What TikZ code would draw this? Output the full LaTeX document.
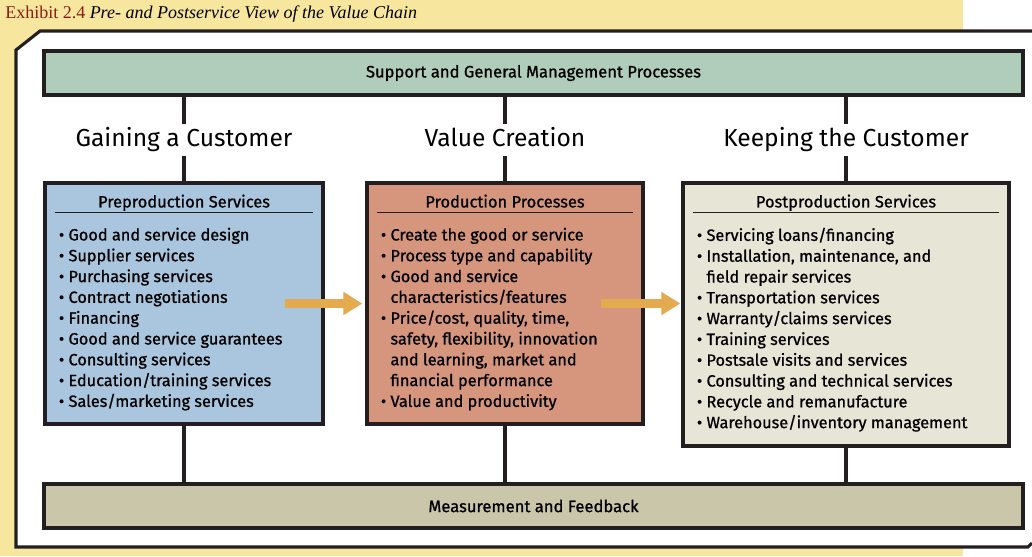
\documentclass[tikz,border=0pt]{standalone}
\usepackage{fontspec}
\setmainfont{Fira Sans}
\newfontfamily\medfont[FakeBold=0.9]{Fira Sans}
\newfontfamily\exhibitfont{Liberation Serif}
\usetikzlibrary{positioning, calc, arrows.meta}
\definecolor{bgyellow}{RGB}{247,230,158}
\definecolor{frameink}{RGB}{35,31,32}
\definecolor{supportgreen}{RGB}{175,205,186}
\definecolor{measuretan}{RGB}{202,198,170}
\definecolor{preblue}{RGB}{169,198,222}
\definecolor{prodsalmon}{RGB}{214,149,125}
\definecolor{postbeige}{RGB}{231,229,214}
\definecolor{flowOrange}{RGB}{228,170,80}
\definecolor{exhibitred}{RGB}{140,30,20}
\tikzset{
    bar/.style={
        draw=frameink, line width=2.2pt, minimum width=24.475cm, minimum height=1.1cm,
        font=\medfont\fontsize{11.8}{13}\selectfont
    },
    stagebox/.style={
        draw=frameink, line width=2.2pt, minimum height=6.025cm
    },
    boxtitle/.style={
        font=\medfont\fontsize{11.7}{13}\selectfont, inner sep=0pt, anchor=base
    },
    itemlist/.style={
        align=left, inner sep=0pt, anchor=north west, font=\medfont\fontsize{11.6}{14.8}\selectfont
    },
    link/.style={
        draw=frameink, line width=2.5pt
    },
    heading/.style={
        fill=white, inner sep=3pt, anchor=base, text height=13pt, text depth=4pt,
        font=\fontsize{17.5}{20}\selectfont
    },
    flow/.style={
        draw=flowOrange, line width=7pt, -{Triangle[length=0.47cm, width=0.55cm]}
    }
}
\newcommand{\bul}{\textbullet\ }
\newcommand{\cont}{\phantom{\textbullet\ }}

\begin{document}
\begin{tikzpicture}
    \useasboundingbox (0,0) rectangle (25.8,-13.9);

    % --- BACKGROUND AND FRAME ---
    \fill[bgyellow] (0,0) rectangle (24.075,-13.9);
    \fill[white] (0.4,-1.25) -- (1,-0.775) -- (25.8,-0.775) -- (25.8,-13.675) -- (0.4,-13.675) -- cycle;
    \draw[frameink, line width=2.2pt] (25.8,-0.775) -- (1,-0.775) -- (0.4,-1.25) -- (0.4,-13.675) -- (25.7,-13.675) -- (25.8,-13.575);

    \node[anchor=west, inner sep=0pt, font=\exhibitfont\fontsize{12.8}{14}\selectfont] (exhibit) at (0.125,-0.35)
        {\textcolor{exhibitred}{Exhibit 2.4} \textit{Pre- and Postservice View of the Value Chain}};

    % --- BARS ---
    \node[bar, fill=supportgreen] (support) at (13.3375,-1.825) {Support and General Management Processes};
    \node[bar, fill=measuretan] (measure) at (13.3375,-12.65) {Measurement and Feedback};

    % --- THE THREE STAGES ---
    \node[stagebox, fill=preblue, minimum width=6.95cm] (pre) at (4.6,-7.5875) {};
    \node[stagebox, fill=prodsalmon, minimum width=6.9cm] (prod) at (12.625,-7.5875) {};
    \node[stagebox, fill=postbeige, minimum width=8.15cm, minimum height=6.575cm] (post) at (21.15,-7.8625) {};

    % links to the bars
    \foreach \s in {pre, prod, post} {
        \draw[link] (\s.north) -- (\s.north |- support.south);
        \draw[link] (\s.south) -- (\s.south |- measure.north);
    }

    % headings over the links
    \node[heading] (gain) at (pre.north |- 0,-3.65) {Gaining a Customer};
    \node[heading] (create) at (prod.north |- 0,-3.65) {Value Creation};
    \node[heading] (keep) at (post.north |- 0,-3.65) {Keeping the Customer};

    % box titles and rules
    \node[boxtitle] (pretitle) at ([yshift=-0.65cm]pre.north) {Preproduction Services};
    \node[boxtitle] (prodtitle) at ([yshift=-0.65cm]prod.north) {Production Processes};
    \node[boxtitle] (posttitle) at ([yshift=-0.65cm]post.north) {Postproduction Services};
    \foreach \s in {pre, prod, post} {
        \draw[frameink, line width=1pt] ([xshift=0.28cm, yshift=-0.775cm]\s.north west) -- ([xshift=-0.28cm, yshift=-0.775cm]\s.north east);
    }

    % item lists
    \node[itemlist] (prelist) at ([xshift=0.38cm, yshift=-1.15cm]pre.north west) {%
        \bul Good and service design\\
        \bul Supplier services\\
        \bul Purchasing services\\
        \bul Contract negotiations\\
        \bul Financing\\
        \bul Good and service guarantees\\
        \bul Consulting services\\
        \bul Education/training services\\
        \bul Sales/marketing services};
    \node[itemlist] (prodlist) at ([xshift=0.38cm, yshift=-1.15cm]prod.north west) {%
        \bul Create the good or service\\
        \bul Process type and capability\\
        \bul Good and service\\
        \cont characteristics/features\\
        \bul Price/cost, quality, time,\\
        \cont safety, flexibility, innovation\\
        \cont and learning, market and\\
        \cont financial performance\\
        \bul Value and productivity};
    \node[itemlist] (postlist) at ([xshift=0.38cm, yshift=-1.15cm]post.north west) {%
        \bul Servicing loans/financing\\
        \bul Installation, maintenance, and\\
        \cont field repair services\\
        \bul Transportation services\\
        \bul Warranty/claims services\\
        \bul Training services\\
        \bul Postsale visits and services\\
        \bul Consulting and technical services\\
        \bul Recycle and remanufacture\\
        \bul Warehouse/inventory management};

    % --- FLOW ARROWS ---
    \draw[flow] ([xshift=-1cm]pre.east) -- ([xshift=-0.08cm]prod.west);
    \draw[flow] ([xshift=-1.1cm]prod.east |- pre.east) -- ([xshift=-0.03cm]post.west |- pre.east);

\end{tikzpicture}
\end{document}
